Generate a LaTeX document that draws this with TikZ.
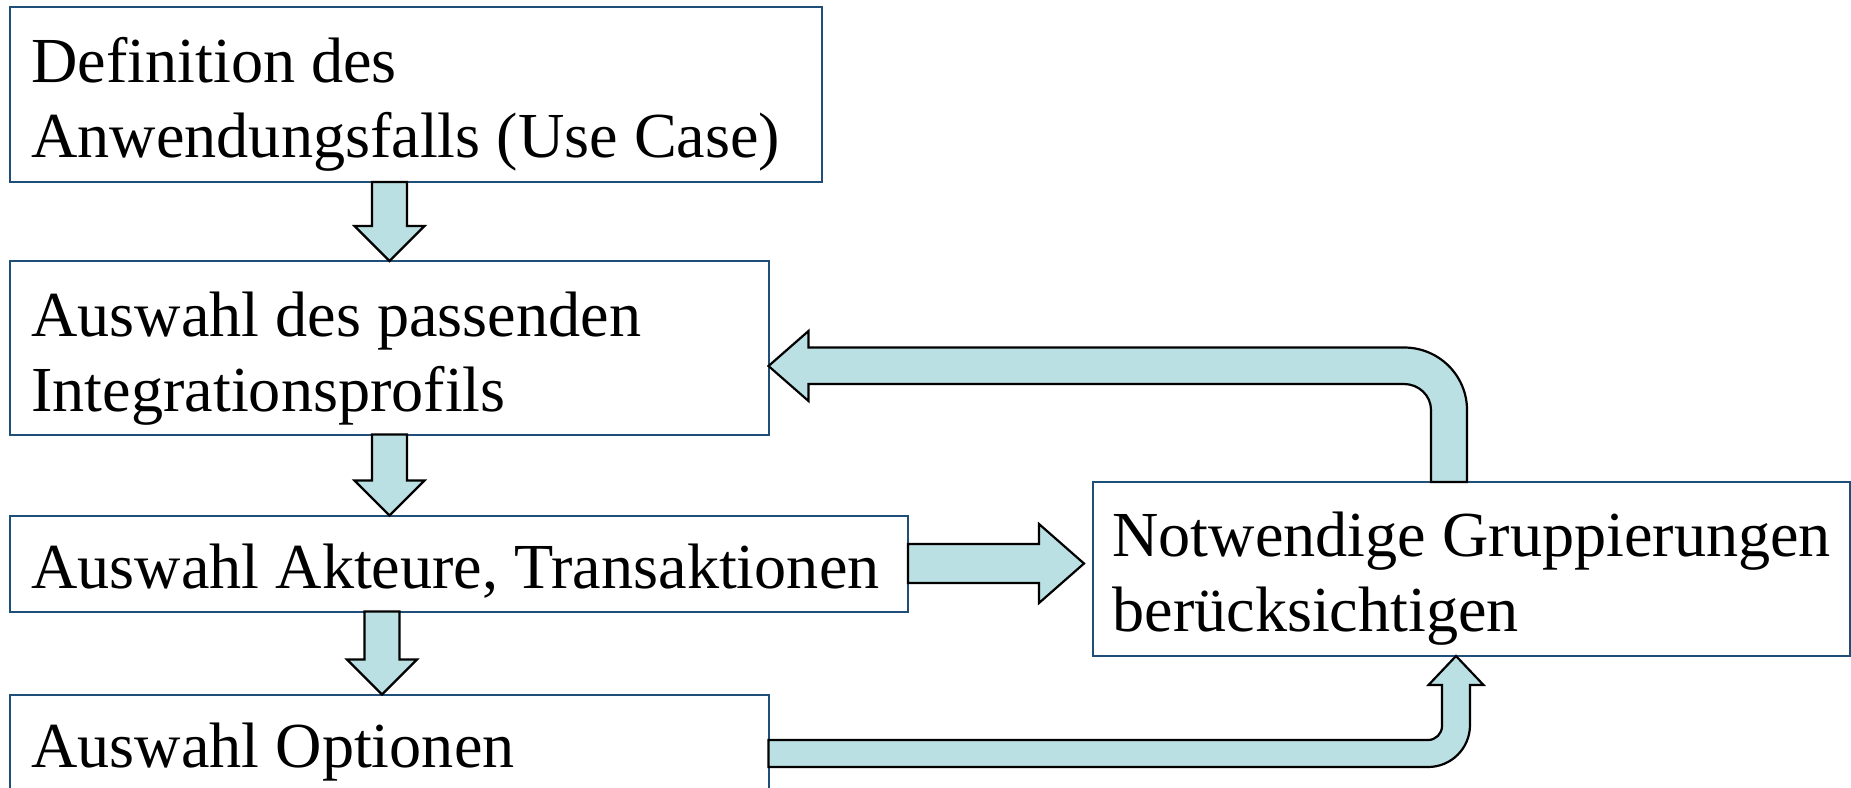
\documentclass[tikz,border=0pt]{standalone}
\usepackage{fontspec}
\setmainfont{Liberation Serif}
\usetikzlibrary{calc}
\definecolor{boxblue}{HTML}{1F4E79}
\definecolor{arrfill}{HTML}{BAE0E3}
\newcommand{\dnarrow}[3]{%
  \coordinate (ax) at (#3,0);
  \coordinate (as) at (#1.south -| ax);
  \coordinate (ae) at (#2.north -| ax);
  \draw[arr] ($(as)+(-17.5,0)$) -- ($(ae)+(-17.5,-35)$) -- ($(ae)+(-35,-35)$) -- (ae)
    -- ($(ae)+(35,-35)$) -- ($(ae)+(17.5,-35)$) -- ($(as)+(17.5,0)$) -- cycle;
}
\begin{document}
\begin{tikzpicture}[x=0.5pt,y=-0.5pt,
  box/.style={draw=boxblue, line width=1pt, fill=white, inner sep=0pt, outer sep=0pt, anchor=north west},
  lbl/.style={anchor=base west, inner sep=0pt, align=left, font=\fontsize{32.1}{37.2}\selectfont},
  arr/.style={draw=black, line width=1.1pt, fill=arrfill, line join=miter}]
\useasboundingbox (0,0) rectangle (1851,787);

% boxes
\node[box, minimum width=406.25pt, minimum height=87.5pt] (box1) at (9.5,7) {};
\node[box, minimum width=379.5pt, minimum height=86.75pt] (box2) at (9.5,261) {};
\node[box, minimum width=449.25pt, minimum height=48pt] (box3) at (9.5,515.5) {};
\node[box, minimum width=379.5pt, minimum height=75pt] (box4) at (9.5,694.5) {};
\node[box, minimum width=378.5pt, minimum height=87pt] (box5) at (1093,482) {};

% texts (base anchor = baseline of the last line)
\node[lbl] (t1) at (31,157) {Definition des\\Anwendungsfalls (Use Case)};
\node[lbl] (t2) at (31,411) {Auswahl des passenden\\Integrationsprofils};
\node[lbl] (t3) at (31,588) {Auswahl Akteure, Transaktionen};
\node[lbl] (t4) at (31,767) {Auswahl Optionen};
\node[lbl] (t5) at (1112,631) {Notwendige Gruppierungen\\berücksichtigen};

% down arrows
\dnarrow{box1}{box2}{389.5}
\dnarrow{box2}{box3}{389.5}
\dnarrow{box3}{box4}{382}

% right arrow box3 -> box5
\coordinate (r1) at (box3.east);
\coordinate (r2) at ($(box3.east -| box5.west)+(-9,0)$);
\draw[arr] ($(r1)+(0,-19.5)$) -- ($(r2)+(-45,-19.5)$) -- ($(r2)+(-45,-39.5)$) -- (r2)
  -- ($(r2)+(-45,39.5)$) -- ($(r2)+(-45,19.5)$) -- ($(r1)+(0,19.5)$) -- cycle;

% bent arrow box5 -> box2
\coordinate (a1b) at ($(box5.north west)+(356,0)$);
\coordinate (a1t) at ($(box2.north east)+(0,105)$);
\coordinate (a1c) at (a1b |- a1t);
\draw[arr] ($(a1b)+(-18,0)$) -- ($(a1c)+(-18,44)$) to[out=90,in=0] ($(a1c)+(-45,18)$)
  -- ($(a1t)+(40,18)$) -- ($(a1t)+(40,35)$) -- (a1t) -- ($(a1t)+(40,-35)$)
  -- ($(a1t)+(40,-18.5)$) -- ($(a1c)+(-45,-18.5)$) to[out=0,in=90] ($(a1c)+(18,44)$)
  -- ($(a1b)+(18,0)$) -- cycle;

% bent arrow box4 -> box5
\coordinate (b2s) at ($(box4.north east)+(0,59)$);
\coordinate (b2t) at ($(box5.south west)+(363,0)$);
\coordinate (b2c) at (b2t |- b2s);
\draw[arr] ($(b2s)+(0,-13.5)$) -- ($(b2c)+(-28,-13.5)$) to[out=0,in=-90] ($(b2c)+(-14,-27.5)$)
  -- ($(b2t)+(-14,29)$) -- ($(b2t)+(-27.5,29)$) -- (b2t) -- ($(b2t)+(27.5,29)$)
  -- ($(b2t)+(14,29)$) -- ($(b2c)+(14,-28.5)$) to[out=-90,in=0] ($(b2c)+(-28,13.5)$)
  -- ($(b2s)+(0,13.5)$) -- cycle;
\end{tikzpicture}
\end{document}
